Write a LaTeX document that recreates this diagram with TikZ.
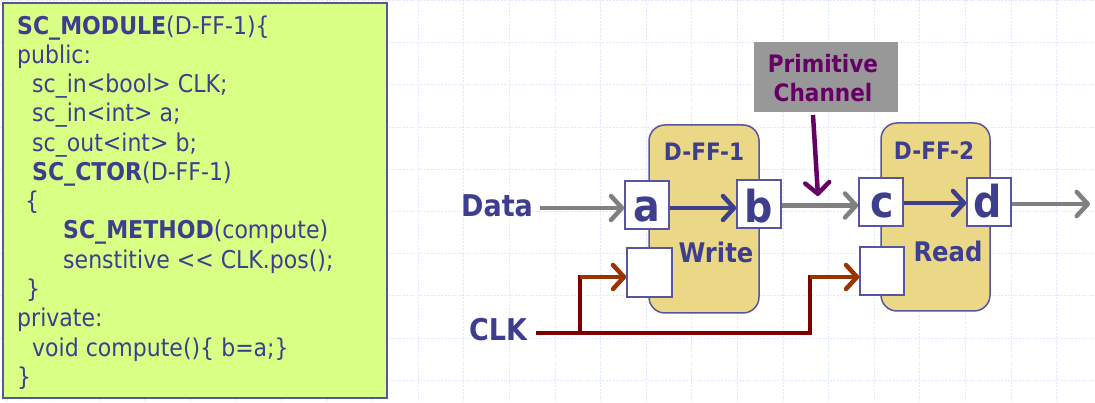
\documentclass[tikz,border=0pt]{standalone}
\usepackage{fontspec}
\setmainfont{DejaVu Sans Condensed}[Ligatures=TeXOff]
\usetikzlibrary{arrows.meta}
\definecolor{codefill}{RGB}{218,255,133}
\definecolor{txtblue}{RGB}{62,62,143}
\definecolor{ffill}{RGB}{235,216,134}
\definecolor{fborder}{RGB}{85,85,160}
\definecolor{chgray}{RGB}{152,152,152}
\definecolor{chpurple}{RGB}{102,0,102}
\definecolor{wiregray}{RGB}{128,128,128}
\definecolor{clkred}{RGB}{128,0,0}
\definecolor{clkbrown}{RGB}{153,51,0}
\definecolor{gridc}{RGB}{224,231,250}
\tikzset{
  gridline/.style={draw=gridc,line width=1pt,dash pattern=on 2pt off 1.5pt},
  codeline/.style={anchor=base west,inner sep=0pt,text=txtblue,font=\fontsize{24.5}{29.2}\selectfont},
  ffbox/.style={draw=fborder,fill=ffill,line width=1.5pt,rounded corners=16pt,minimum width=110pt,minimum height=188pt,inner sep=0pt},
  port/.style={draw=fborder,fill=white,line width=1.5pt,minimum width=44pt,minimum height=48pt,inner sep=0pt},
  portlbl/.style={anchor=base,inner sep=0pt,text=txtblue,font=\fontsize{44}{48}\selectfont\bfseries},
  fflbl/.style={anchor=base,inner sep=0pt,text=txtblue,font=\fontsize{24}{28}\selectfont\bfseries},
  rolelbl/.style={anchor=base,inner sep=0pt,text=txtblue,font=\fontsize{27}{30}\selectfont\bfseries},
  siglbl/.style={anchor=base,inner sep=0pt,text=txtblue,font=\fontsize{30}{34}\selectfont\bfseries},
  tip/.tip={Straight Barb[length=11pt,width=24pt,round]},
  graywire/.style={draw=wiregray,line width=4.5pt,-tip},
  bluewire/.style={draw=txtblue,line width=4.5pt,-tip},
  purplewire/.style={draw=chpurple,line width=4.5pt,-tip},
  clkline/.style={draw=clkred,line width=4.5pt},
  clkarrow/.style={draw=clkbrown,line width=4.5pt,-tip}
}
\begin{document}
\begin{tikzpicture}[x=1pt,y=-1pt]
\useasboundingbox (0,0) rectangle (1095,403);
% background grid
\foreach \k in {0,...,23} \draw[gridline] ({7.9+45.6*\k},0) -- ({7.9+45.6*\k},403);
\foreach \k in {0,...,9} \draw[gridline] (0,{0.5+42.2*\k}) -- (1095,{0.5+42.2*\k});
% code box
\draw[draw=fborder,fill=codefill,line width=1.5pt] (3,3) rectangle (387,398);
\node[codeline] (c1) at (17,34.3) {\textbf{SC\_MODULE}(D-FF-1)\{};
\node[codeline] (c2) at (17,63.5) {public:};
\node[codeline] (c3) at (32,92.8) {sc\_in<bool> CLK;};
\node[codeline] (c4) at (32,122.0) {sc\_in<int> a;};
\node[codeline] (c5) at (32,151.3) {sc\_out<int> b;};
\node[codeline] (c6) at (32,180.5) {\textbf{SC\_CTOR}(D-FF-1)};
\node[codeline] (c7) at (25,209.8) {\{};
\node[codeline] (c8) at (63,239.0) {\textbf{SC\_METHOD}(compute)};
\node[codeline] (c9) at (63,268.3) {senstitive <\kern0pt< CLK.pos();};
\node[codeline] (c10) at (26,297.5) {\}};
\node[codeline] (c11) at (17,326.8) {private:};
\node[codeline] (c12) at (32,356.0) {void compute()\{ b=a;\}};
\node[codeline] (c13) at (17,385.3) {\}};
% primitive channel label
\node[fill=chgray,minimum width=144pt,minimum height=70pt,inner sep=0pt] (chan) at (826,77) {};
\node[anchor=base,inner sep=0pt,text=chpurple,font=\fontsize{24}{29}\selectfont\bfseries] (chan1) at (823,72.7) {Primitive};
\node[anchor=base,inner sep=0pt,text=chpurple,font=\fontsize{24}{29}\selectfont\bfseries] (chan2) at (823,101.7) {Channel};
% flip-flops
\node[ffbox] (ff1) at (704,219) {};
\node[ffbox,minimum width=109pt] (ff2) at (935.5,217) {};
\node[fflbl] (ff1l) at (704,161) {D-FF-1};
\node[fflbl] (ff2l) at (934,159.3) {D-FF-2};
\node[rolelbl] (wr) at (716,262.7) {Write};
\node[rolelbl] (rd) at (948,261.7) {Read};
% ports
\node[port] (pa) at (647,205) {};
\node[port] (pb) at (759,204) {};
\node[port] (pc) at (881,202) {};
\node[port] (pd) at (989,202) {};
\node[port,minimum width=45pt,minimum height=49pt] (pk1) at (649.5,272.5) {};
\node[port] (pk2) at (882,271) {};
\node[portlbl] (la) at (647,222) {a};
\node[portlbl] (lb) at (759,222.5) {b};
\node[portlbl] (lc) at (882,218) {c};
\node[portlbl] (ld) at (988,217.5) {d};
% signal labels
\node[siglbl] (data) at (497,216.7) {Data};
\node[siglbl] (clk) at (498,341) {CLK};
% coordinates
\coordinate (dsrc) at (540,208);
\coordinate (out) at (1090,204);
\coordinate (ptip) at (818,196);
\coordinate (ptail) at (813,115);
\coordinate (cstart) at (536,333);
\coordinate (j1) at (580,333);
\coordinate (j1t) at (580,275);
\coordinate (j2) at (810,333);
\coordinate (j2t) at (810,275);
\coordinate (k1) at (580,277);
\coordinate (k2) at (810,277);
% wires
\draw[graywire] (dsrc) -- (dsrc -| pa.west);
\draw[bluewire] (pa.east |- 0,208) -- (pb.west |- 0,208);
\draw[graywire] (pb.east |- 0,205.5) -- (pc.west |- 0,205.5);
\draw[bluewire] (pc.east |- 0,203) -- (pd.west |- 0,203);
\draw[graywire] (pd.east |- out) -- (out);
\draw[purplewire] (ptail) -- (ptip);
\draw[clkline] (cstart) -- (j2) -- (j2t);
\draw[clkline] (j1) -- (j1t);
\draw[clkarrow] (k1) -- (k1 -| pk1.west);
\draw[clkarrow] (k2) -- (k2 -| pk2.west);
\end{tikzpicture}
\end{document}
